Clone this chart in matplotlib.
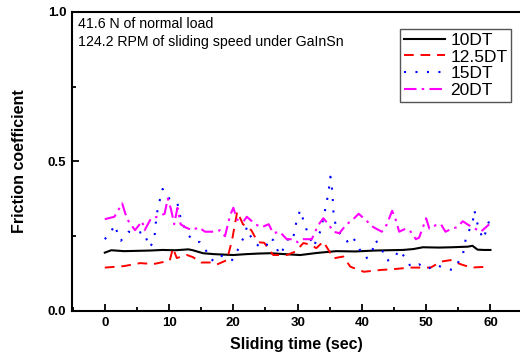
import matplotlib
matplotlib.use("Agg")
import matplotlib.pyplot as plt
from matplotlib.ticker import MultipleLocator, FormatStrFormatter

plt.rcParams["font.family"] = ["Liberation Sans", "DejaVu Sans"]

# 10DT
t_10 = [0, 1, 3, 5, 7, 9, 11, 13, 13.7, 15.3, 17, 20, 22, 24, 25.7, 28, 30.4,
        33, 36, 39, 42, 44, 46.4, 48, 49.5, 52, 54, 56.5, 57.2, 58, 59, 60]
f_10 = [0.195, 0.203, 0.200, 0.201, 0.202, 0.204, 0.203, 0.206, 0.203, 0.193,
        0.190, 0.187, 0.190, 0.192, 0.193, 0.190, 0.187, 0.194, 0.200, 0.199,
        0.202, 0.203, 0.204, 0.207, 0.213, 0.212, 0.213, 0.215, 0.218, 0.205,
        0.204, 0.204]

# 12.5DT
t_125 = [0, 3, 5.5, 7.6, 10.1, 10.6, 11.2, 12.8, 13.7, 15, 16.4, 17.4, 19,
         19.8, 20.6, 21.5, 22.8, 23.8, 24.8, 26.2, 28.3, 29.6, 30.9, 32,
         32.9, 34, 35.6, 37.1, 38.2, 40.3, 42.9, 45, 47.6, 50.7, 52.3, 53.8,
         55.4, 57, 59.6]
f_125 = [0.145, 0.150, 0.160, 0.157, 0.168, 0.210, 0.177, 0.187, 0.180,
         0.162, 0.162, 0.155, 0.170, 0.237, 0.332, 0.290, 0.270, 0.230,
         0.228, 0.187, 0.187, 0.198, 0.227, 0.222, 0.210, 0.232, 0.176,
         0.182, 0.148, 0.131, 0.137, 0.140, 0.145, 0.145, 0.165, 0.170,
         0.156, 0.145, 0.148]

# 15DT
t_15 = [0, 1, 1.5, 2, 2.5, 3.2, 3.7, 5, 6, 6.5, 7, 7.5, 7.8, 8, 8.2, 8.5,
        9, 9.5, 10.3, 11.3, 11.8, 12.8, 13.7, 14.8, 15.8, 16.4, 16.9, 18,
        19, 19.8, 20.6, 21.1, 21.6, 22.1, 22.4, 23.2, 24.3, 25.2, 25.6,
        26.2, 27.2, 28, 28.5, 29, 29.6, 29.8, 30.4, 31.1, 31.5, 32, 32.5,
        33.6, 34, 34.5, 34.8, 35, 35.1, 35.4, 35.6, 35.9, 36.4, 37, 37.7,
        38.5, 39, 39.8, 40.6, 41.4, 42.1, 42.9, 43.9, 45, 45.8, 46.8, 47.6,
        48.9, 50.2, 51.5, 52.8, 54.1, 54.9, 55.7, 56.2, 56.7, 57.2, 57.5,
        58, 58.5, 58.8, 59.3, 59.6, 60]
f_15 = [0.240, 0.265, 0.288, 0.260, 0.235, 0.250, 0.265, 0.260, 0.265,
        0.240, 0.213, 0.230, 0.260, 0.310, 0.337, 0.366, 0.408, 0.388,
        0.370, 0.360, 0.310, 0.260, 0.235, 0.230, 0.200, 0.175, 0.168,
        0.186, 0.175, 0.170, 0.200, 0.225, 0.245, 0.280, 0.260, 0.232,
        0.210, 0.220, 0.245, 0.237, 0.187, 0.215, 0.240, 0.232, 0.265,
        0.300, 0.337, 0.290, 0.265, 0.240, 0.215, 0.270, 0.310, 0.360,
        0.400, 0.428, 0.449, 0.400, 0.320, 0.290, 0.265, 0.245, 0.232,
        0.250, 0.232, 0.200, 0.176, 0.185, 0.237, 0.215, 0.168, 0.176,
        0.204, 0.176, 0.148, 0.156, 0.140, 0.155, 0.143, 0.137, 0.160,
        0.187, 0.245, 0.270, 0.290, 0.337, 0.290, 0.260, 0.240, 0.265,
        0.290, 0.310]

# 20DT
t_20 = [0, 1.5, 2.7, 3.2, 3.7, 4.7, 5.8, 6.2, 7.2, 8.2, 9.3, 9.8, 10.3,
        10.8, 11.3, 11.8, 12.5, 13.6, 14.6, 15.6, 17.2, 17.9, 18.7, 19.5,
        20, 20.6, 21.6, 22.1, 23.4, 24.4, 25.5, 26.2, 27.2, 28.3, 29.3, 30,
        30.9, 32.2, 33.2, 34, 34.8, 35.6, 36.5, 37.5, 38.8, 39.5, 40.8,
        41.8, 43.1, 43.9, 44.7, 45.2, 45.8, 46.8, 47.6, 48.4, 48.9, 49.5,
        50, 50.5, 51.5, 52.3, 53, 54, 54.8, 55.7, 56.4, 57.2, 58.5, 59.3,
        59.8]
f_20 = [0.307, 0.315, 0.360, 0.325, 0.300, 0.270, 0.300, 0.270, 0.310,
        0.315, 0.325, 0.376, 0.340, 0.290, 0.345, 0.290, 0.280, 0.270,
        0.280, 0.265, 0.265, 0.270, 0.250, 0.320, 0.345, 0.305, 0.300,
        0.315, 0.290, 0.280, 0.290, 0.260, 0.265, 0.240, 0.240, 0.230,
        0.240, 0.240, 0.287, 0.310, 0.290, 0.265, 0.260, 0.287, 0.310,
        0.325, 0.300, 0.280, 0.265, 0.290, 0.335, 0.310, 0.265, 0.275,
        0.265, 0.240, 0.245, 0.280, 0.310, 0.275, 0.287, 0.290, 0.265,
        0.275, 0.280, 0.300, 0.290, 0.280, 0.265, 0.280, 0.290]

fig = plt.figure(figsize=(5.2, 3.57), dpi=100)
ax = fig.add_axes([0.1385, 0.129, 0.8615, 0.8375])

ax.plot(t_10, f_10, color="black", linewidth=1.5, label="10DT")
ax.plot(t_125, f_125, color="red", linewidth=1.4, linestyle=(0, (5, 3.5)), label="12.5DT")
ax.plot(t_15, f_15, color="blue", linewidth=1.5, linestyle=(0, (1, 4.5)), label="15DT")
ax.plot(t_20, f_20, color="magenta", linewidth=1.5,
        linestyle=(0, (6, 2.5, 1.2, 2.5)), label="20DT")

ax.set_xlim(-5.1, 64.6)
ax.set_ylim(0, 1.0)
ax.xaxis.set_major_locator(MultipleLocator(10))
ax.xaxis.set_minor_locator(MultipleLocator(5))
ax.yaxis.set_major_locator(MultipleLocator(0.5))
ax.yaxis.set_minor_locator(MultipleLocator(0.25))
ax.yaxis.set_major_formatter(FormatStrFormatter("%.1f"))
ax.tick_params(which="both", direction="in", width=1.3, labelsize=9.5, pad=4)
ax.tick_params(which="major", length=5)
ax.tick_params(which="minor", length=3)
ax.tick_params(axis="x", top=False)
ax.tick_params(axis="y", right=False)
for lab in ax.get_xticklabels() + ax.get_yticklabels():
    lab.set_fontweight("bold")
for side in ["left", "bottom", "top"]:
    ax.spines[side].set_linewidth(1.5)
ax.spines["right"].set_visible(False)

ax.set_xlabel("Sliding time (sec)", fontsize=11.5, fontweight="bold", labelpad=6)
ax.set_ylabel("Friction coefficient", fontsize=11.5, fontweight="bold", labelpad=15)

ax.text(0.013, 0.982, "41.6 N of normal load\n124.2 RPM of sliding speed under GaInSn",
        transform=ax.transAxes, ha="left", va="top", fontsize=10.2, linespacing=1.3)

leg = ax.legend(loc="upper right", bbox_to_anchor=(0.98, 0.943), fontsize=12.5,
                handlelength=2.4, handletextpad=0.3, labelspacing=0.1,
                borderpad=0.2, fancybox=False, framealpha=1, borderaxespad=0)
leg.get_frame().set_edgecolor("#555555")
leg.get_frame().set_linewidth(1.0)

fig.savefig("out.png", dpi=100)
